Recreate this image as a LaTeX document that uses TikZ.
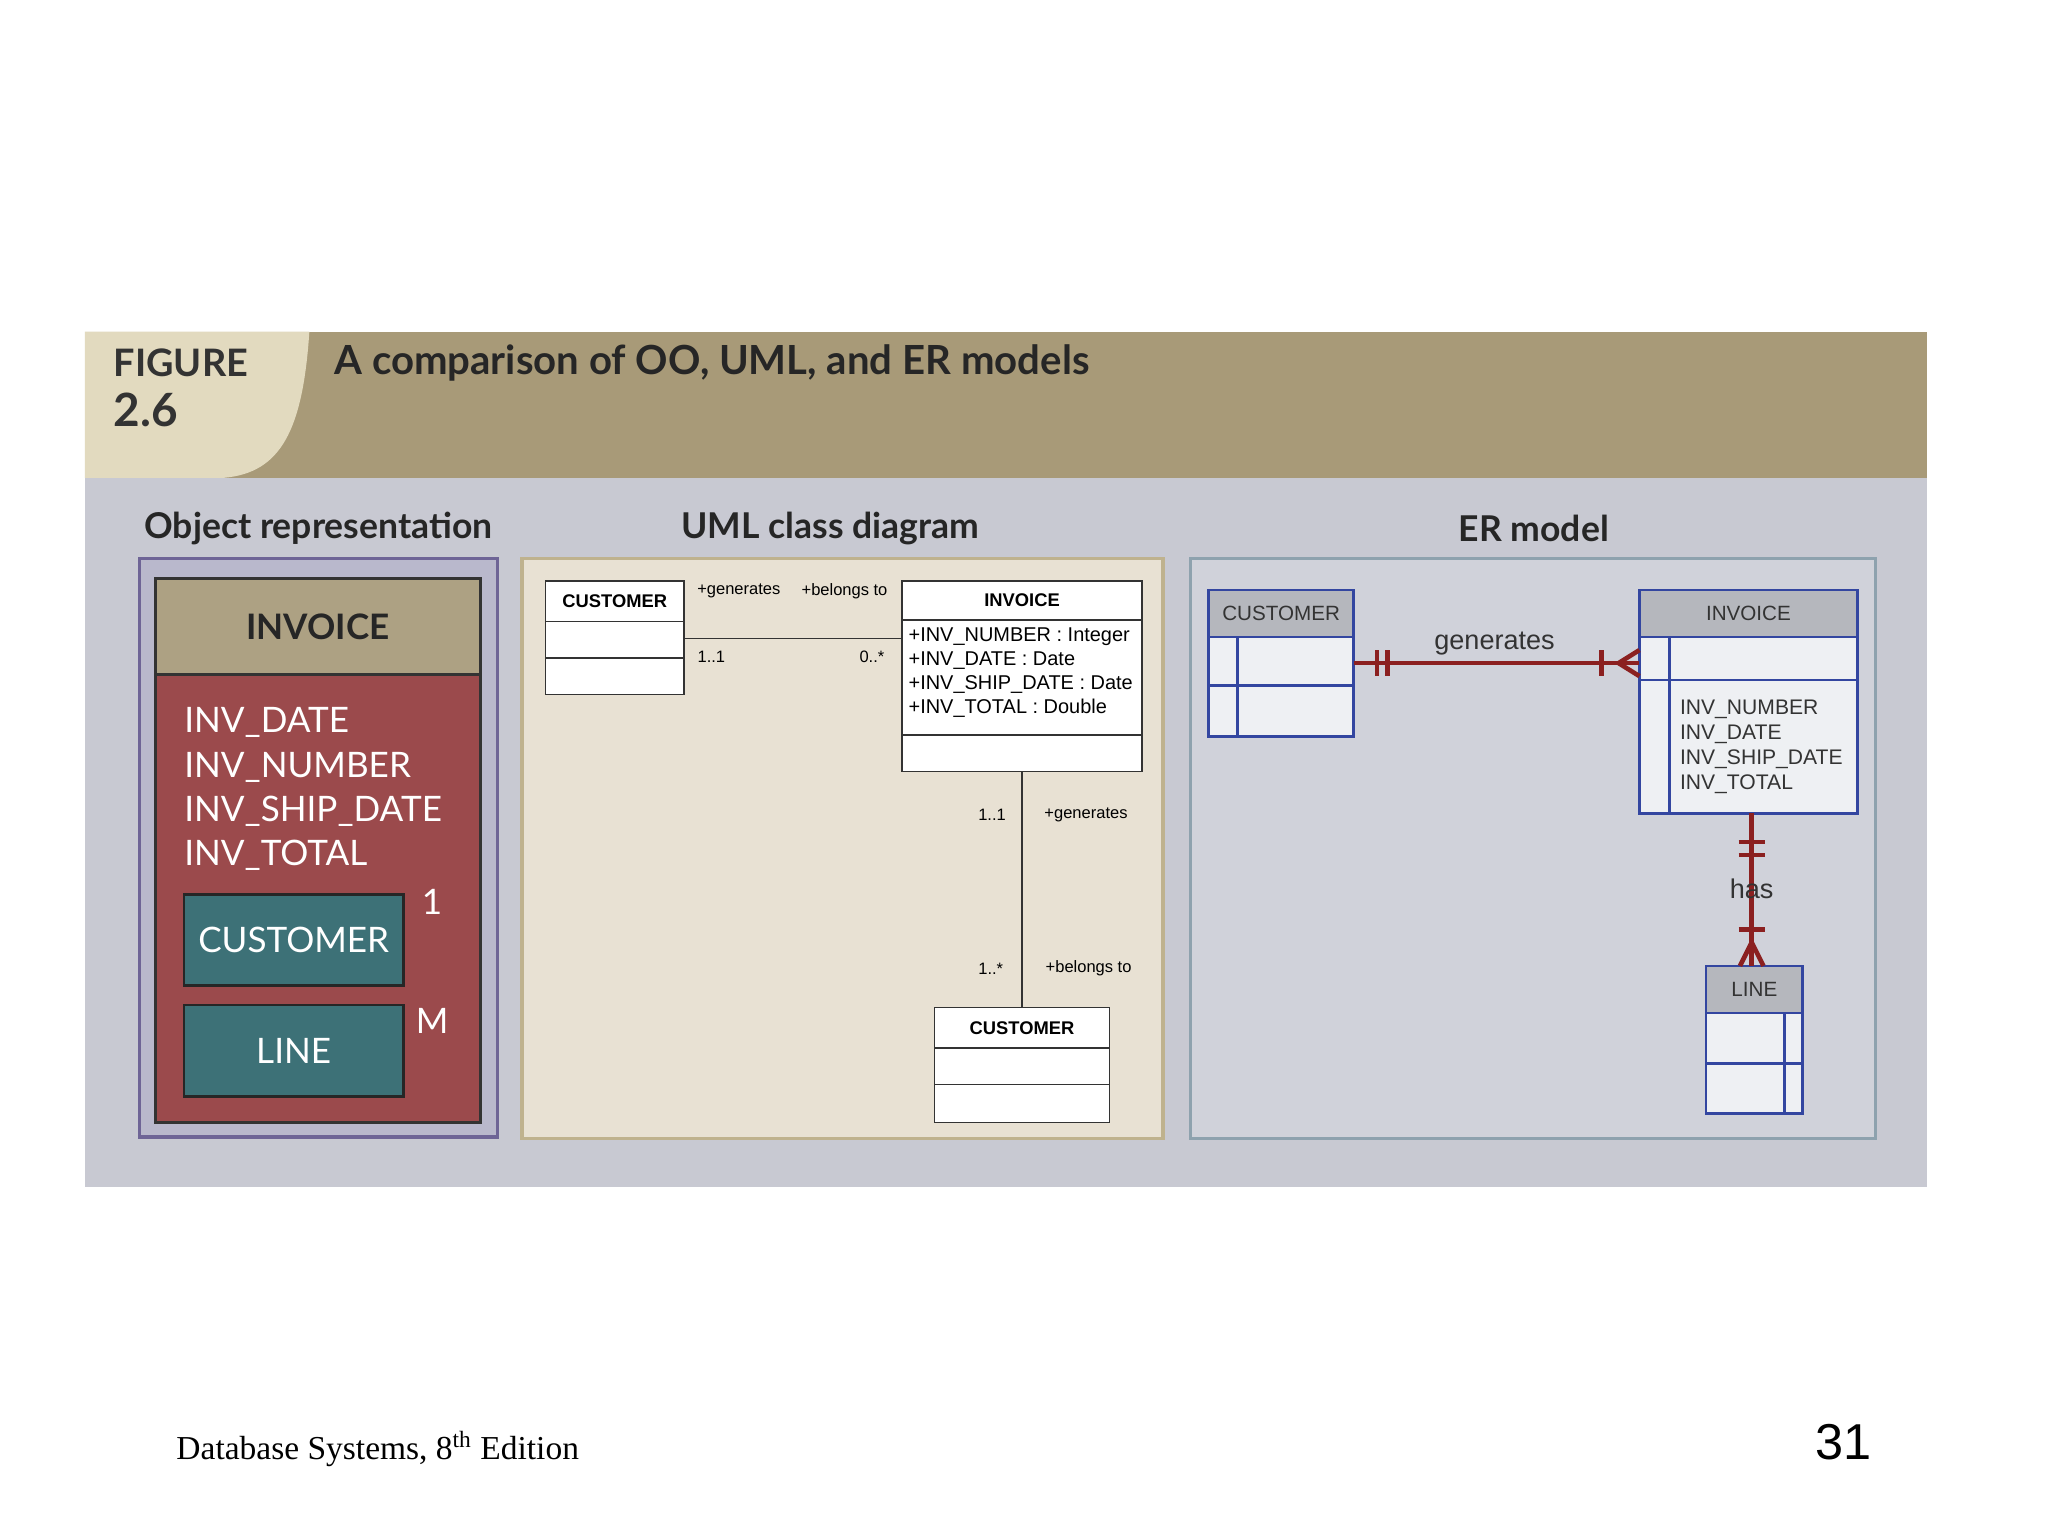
\documentclass[tikz,border=0pt]{standalone}
\usepackage{fontspec}
\setmainfont{Liberation Serif}
\newfontfamily\headf{Lato}
\newfontfamily\arialf{Liberation Sans}
\definecolor{banner}{HTML}{A89A78}
\definecolor{cream}{HTML}{E2DABF}
\definecolor{panel}{HTML}{C8C9D2}
\definecolor{objborder}{HTML}{6E6496}
\definecolor{objfill}{HTML}{B9B8CC}
\definecolor{objred}{HTML}{9B4A4C}
\definecolor{objtan}{HTML}{ADA183}
\definecolor{objteal}{HTML}{3D7177}
\definecolor{umlfill}{HTML}{E8E1D3}
\definecolor{umlborder}{HTML}{BFB28E}
\definecolor{erfill}{HTML}{D0D2DA}
\definecolor{erborder}{HTML}{8EA2AE}
\definecolor{erblue}{HTML}{3346A0}
\definecolor{erhead}{HTML}{B5B7BD}
\definecolor{ercell}{HTML}{EEF0F3}
\definecolor{errel}{HTML}{8B2020}
\newcommand{\boxnode}[6]{\node[#1,inner sep=0pt,outer sep=0pt,minimum width={(#4-#2)*0.02cm},minimum height={(#5-#3)*0.02cm}] (#6) at ({(#2+#4)/2},{(#3+#5)/2}) {};}
\begin{document}
\begin{tikzpicture}[x=0.02cm,y=-0.02cm,
  umltxt/.style={font=\arialf\fontsize{8}{9}\selectfont,inner sep=1pt},
  umltiny/.style={font=\arialf\fontsize{7.2}{8}\selectfont,inner sep=1pt},
  head/.style={font=\headf\bfseries\fontsize{15.5}{17}\selectfont,text=black!85},
  objtxt/.style={font=\headf\fontsize{15.3}{19.3}\selectfont,text=white},
  umlbox/.style={draw=black!80,fill=white,line width=0.6pt},
  erbox/.style={draw=erblue,fill=ercell,line width=1.2pt},
  ertxt/.style={font=\arialf\fontsize{9}{11}\selectfont,text=black!80,inner sep=1pt},
  rel/.style={draw=errel,line width=2pt}]
\useasboundingbox (0,0) rectangle (1569,1176.75);
\fill[white] (0,0) rectangle (1569,1176.75);
% banner
\fill[banner] (65,254) rectangle (1476,366);
\fill[cream] (65,254) -- (237,254) .. controls (232,330) and (215,362) .. (172,366) -- (65,366) -- cycle;
\node[anchor=west,font=\headf\bfseries\fontsize{16.5}{18}\selectfont,text=black!80] (fig) at (81,278) {FIGURE};
\node[anchor=west,font=\headf\bfseries\fontsize{20}{22}\selectfont,text=black!80] (fignum) at (81,314) {2.6};
\node[anchor=west,font=\headf\bfseries\fontsize{17.5}{19}\selectfont,text=black!85] (title) at (250,278) {A comparison of OO, UML, and ER models};
\fill[panel] (65,366) rectangle (1476,909);
\node[head] (h1) at (244,405) {Object representation};
\node[head] (h2) at (636,405) {UML class diagram};
\node[head] (h3) at (1175,405) {ER model};
% object representation
\boxnode{draw=objborder,fill=objfill,line width=1.5pt}{107}{428}{381}{871}{objouter}
\boxnode{draw=black!80,fill=objred,line width=1.2pt}{119}{443}{368}{860}{objred}
\boxnode{draw=black!80,fill=objtan,line width=1.2pt}{119}{443}{368}{517}{objhead}
\node[font=\headf\bfseries\fontsize{15.3}{17}\selectfont,text=black!85] (objinv) at (objhead) {INVOICE};
\node[objtxt,anchor=north west,align=left] (objattr) at (135,536) {INV\_DATE\\INV\_NUMBER\\INV\_SHIP\_DATE\\INV\_TOTAL};
\boxnode{draw=black!85,fill=objteal,line width=1.2pt}{141}{685}{309}{755}{objcust}
\node[objtxt] (objcustt) at (objcust) {CUSTOMER};
\boxnode{draw=black!85,fill=objteal,line width=1.2pt}{141}{770}{309}{840}{objline}
\node[objtxt] (objlinet) at (objline) {LINE};
\node[objtxt] (one) at (331,691) {1};
\node[objtxt] (many) at (331,782) {M};
% UML
\boxnode{draw=umlborder,fill=umlfill,line width=1.5pt}{400}{428}{891}{872}{umlpanel}
\boxnode{umlbox}{418}{445}{524}{476}{uc1}
\boxnode{umlbox}{418}{476}{524}{504}{uc2}
\boxnode{umlbox}{418}{504}{524}{532}{uc3}
\node[umltxt,font=\arialf\bfseries\fontsize{8}{9}\selectfont] (uct) at (uc1) {CUSTOMER};
\boxnode{umlbox}{691}{445}{875}{475}{ui1}
\boxnode{umlbox}{691}{475}{875}{563}{ui2}
\boxnode{umlbox}{691}{563}{875}{591}{ui3}
\node[umltxt,font=\arialf\bfseries\fontsize{8}{9}\selectfont] (uit) at (ui1) {INVOICE};
\node[umltxt,anchor=north west,align=left,font=\arialf\fontsize{8.7}{10.5}\selectfont] (uia) at (694,479) {+INV\_NUMBER : Integer\\+INV\_DATE : Date\\+INV\_SHIP\_DATE : Date\\+INV\_TOTAL : Double};
\boxnode{umlbox}{716}{772}{850}{803}{ub1}
\boxnode{umlbox}{716}{803}{850}{831}{ub2}
\boxnode{umlbox}{716}{831}{850}{860}{ub3}
\node[umltxt,font=\arialf\bfseries\fontsize{8}{9}\selectfont] (ubt) at (ub1) {CUSTOMER};
\coordinate (ua) at (524,489);
\coordinate (ub) at (691,489);
\draw[black!80,line width=0.6pt] (ua) -- (ub);
\draw[black!80,line width=0.6pt] (ui3.south) -- (ub1.north);
\node[umltiny] (l1) at (566,453) {+generates};
\node[umltiny] (l2) at (647,453) {+belongs to};
\node[umltiny] (l3) at (545,503) {1..1};
\node[umltiny] (l4) at (668,503) {0..*};
\node[umltiny] (l5) at (760,624) {1..1};
\node[umltiny] (l6) at (832,624) {+generates};
\node[umltiny] (l7) at (759,742) {1..*};
\node[umltiny] (l8) at (834,742) {+belongs to};
% ER
\boxnode{draw=erborder,fill=erfill,line width=1.5pt}{912}{428}{1437}{872}{erpanel}
\boxnode{erbox}{926}{488}{1037}{525}{ec2}
\boxnode{erbox}{926}{525}{1037}{564}{ec3}
\boxnode{erbox,fill=erhead}{926}{452}{1037}{488}{ec1}
\draw[erblue,line width=1.2pt] (948,488) -- (948,564);
\node[ertxt] (ect) at (ec1) {CUSTOMER};
\boxnode{erbox}{1256}{488}{1423}{521}{ei2}
\boxnode{erbox}{1256}{521}{1423}{623}{ei3}
\boxnode{erbox,fill=erhead}{1256}{452}{1423}{488}{ei1}
\draw[erblue,line width=1.2pt] (1279,488) -- (1279,623);
\node[ertxt] (eit) at (ei1) {INVOICE};
\node[ertxt,anchor=north west,align=left,font=\arialf\fontsize{9.2}{11}\selectfont] (eia) at (1285,534) {INV\_NUMBER\\INV\_DATE\\INV\_SHIP\_DATE\\INV\_TOTAL};
\boxnode{erbox}{1307}{776}{1381}{815}{el2}
\boxnode{erbox}{1307}{815}{1381}{853}{el3}
\boxnode{erbox,fill=erhead}{1307}{740}{1381}{776}{el1}
\draw[erblue,line width=1.2pt] (1367,776) -- (1367,853);
\node[ertxt] (elt) at (el1) {LINE};
% relationships
\coordinate (ga) at (1037,508);
\coordinate (gb) at (1256,508);
\draw[rel] (ga) -- (gb);
\draw[rel] (1055,498) -- (1055,518) (1063,498) -- (1063,518) (1227,498) -- (1227,518);
\draw[rel] (1240,508) -- (1256,498) (1240,508) -- (1256,518);
\node[font=\arialf\fontsize{11.8}{13}\selectfont,text=black!80] (gen) at (1145,493) {generates};
\coordinate (ha) at (1342,623);
\coordinate (hb) at (1342,740);
\draw[rel] (ha) -- (hb);
\draw[rel] (1332,645) -- (1352,645) (1332,655) -- (1352,655) (1332,712) -- (1352,712);
\draw[rel] (1342,722) -- (1333,740) (1342,722) -- (1351,740);
\node[font=\arialf\fontsize{11.8}{13}\selectfont,text=black!80,inner sep=1pt] (has) at (1342,681) {has};
% footer
\node[anchor=west,font=\fontsize{14.6}{16}\selectfont] (foot) at (129,1110) {Database Systems, 8\textsuperscript{th} Edition};
\node[font=\arialf\fontsize{22}{24}\selectfont] (page) at (1412,1105) {31};
\end{tikzpicture}
\end{document}
